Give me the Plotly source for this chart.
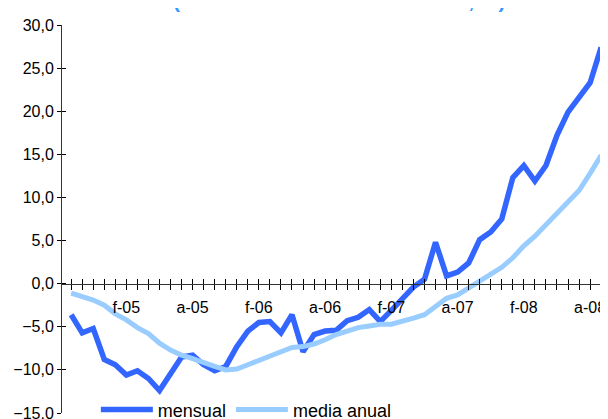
import plotly.graph_objects as go

# Values (monthly points, Sep-04 .. Sep-08)
mensual = [-3.6, -5.7, -5.2, -8.8, -9.4, -10.6, -10.1, -11.0, -12.4, -10.3,
           -8.5, -8.3, -9.4, -10.1, -9.6, -7.3, -5.5, -4.5, -4.4, -5.7,
           -3.6, -7.9, -5.9, -5.5, -5.4, -4.3, -3.9, -3.0, -4.4, -3.1,
           -1.7, -0.4, 0.5, 4.8, 0.9, 1.35, 2.4, 5.1, 6.0, 7.5,
           12.3, 13.7, 11.9, 13.7, 17.2, 19.9, 21.6, 23.3, 27.4]
media_anual = [-1.1, -1.5, -1.9, -2.5, -3.5, -4.2, -5.1, -5.8, -6.9, -7.7,
               -8.3, -8.7, -9.2, -9.6, -10.0, -9.9, -9.4, -8.9, -8.5, -8.0,
               -7.4, -7.3, -7.0, -6.5, -5.9, -5.5, -5.1, -4.9, -4.7, -4.7,
               -4.4, -4.0, -3.6, -2.7, -1.7, -1.3, -0.5, 0.3, 1.1, 1.9,
               3.0, 4.4, 5.5, 6.8, 8.1, 9.3, 10.8, 12.8, 14.9]
tick_labels = ["f-05", "a-05", "f-06", "a-06", "f-07", "a-07", "f-08", "a-08"]
first_label_index = 5
label_step = 6
y_ticks = [-15, -10, -5, 0, 5, 10, 15, 20, 25, 30]
title_text = "(tasas de variación interanual, %)"

x = list(range(len(mensual)))
ticktext = [""] * len(x)
for k, lab in enumerate(tick_labels):
    ticktext[first_label_index + k * label_step] = lab

FONT = "Arial, Liberation Sans, sans-serif"
DARK = "#3366FF"
LIGHT = "#99CCFF"

fig = go.Figure()
fig.add_trace(go.Scatter(x=x, y=mensual, name="mensual", mode="lines",
                         line=dict(color=DARK, width=5.5)))
fig.add_trace(go.Scatter(x=x, y=media_anual, name="media anual", mode="lines",
                         line=dict(color=LIGHT, width=5)))
# invisible helper trace so the overlay axes (crossing tick marks) are drawn
fig.add_trace(go.Scatter(x=x, y=mensual, xaxis="x2", yaxis="y2", mode="lines",
                         line=dict(width=0), opacity=0, showlegend=False,
                         hoverinfo="skip"))

xr = [-0.83, 48.62]
yr = [-15, 30]
zero_pos = (0 - yr[0]) / (yr[1] - yr[0])

fig.update_layout(
    width=600, height=411,
    margin=dict(l=54, r=0, t=17, b=6, pad=0, autoexpand=False),
    paper_bgcolor="white", plot_bgcolor="white",
    separators=",.",
    font=dict(family=FONT, color="#000000", size=16),
    showlegend=True,
    legend=dict(orientation="h", x=0.062, xanchor="left", y=0.008, yanchor="middle",
                font=dict(size=18, family=FONT), bgcolor="rgba(0,0,0,0)",
                itemwidth=52, traceorder="normal"),
    xaxis=dict(range=xr, anchor="free", position=zero_pos,
               showline=True, linecolor="#333333", linewidth=1.3,
               ticks="outside", ticklen=5, tickwidth=1, tickcolor="#000000",
               tickmode="array", tickvals=x, ticktext=ticktext,
               ticklabelstandoff=4, ticklabeloverflow="allow", tickfont=dict(size=16),
               showgrid=False, zeroline=False, fixedrange=True),
    xaxis2=dict(range=xr, overlaying="x", anchor="free", position=zero_pos,
                showline=False, ticks="inside", ticklen=5, tickwidth=1,
                tickcolor="#000000", tickmode="array", tickvals=x,
                showticklabels=False, showgrid=False, zeroline=False),
    yaxis=dict(range=yr, anchor="x", showline=True, linecolor="#333333", linewidth=1,
               ticks="outside", ticklen=4, tickwidth=1, tickcolor="#000000",
               tickmode="array", tickvals=y_ticks, tickformat=".1f",
               ticklabeloverflow="allow",
               tickfont=dict(size=16), showgrid=False, zeroline=False),
    yaxis2=dict(range=yr, overlaying="y", anchor="x2", side="left",
                showline=False, ticks="inside", ticklen=4, tickwidth=1,
                tickcolor="#000000", tickmode="array", tickvals=y_ticks,
                showticklabels=False, showgrid=False, zeroline=False),
    annotations=[dict(text="<b>" + title_text + "</b>", xref="paper", yref="paper",
                      x=0.509, y=1.064, xanchor="center", yanchor="middle",
                      showarrow=False, font=dict(size=21, color="#3399FF", family=FONT))],
)

fig.write_html("out.html")
